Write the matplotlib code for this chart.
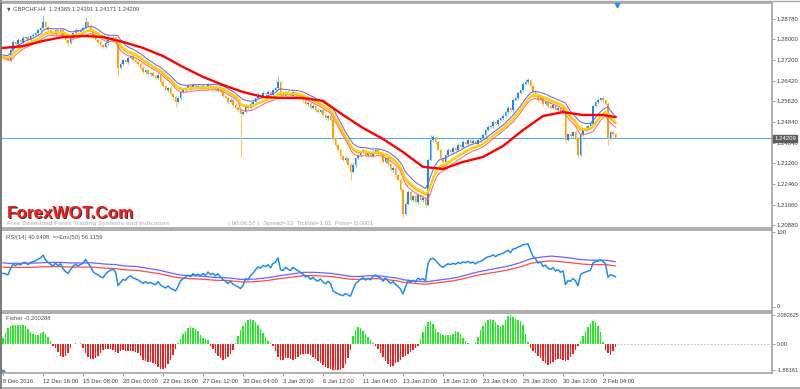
import numpy as np
import pandas as pd
import matplotlib
matplotlib.use('Agg')
import matplotlib.pyplot as plt
from matplotlib.lines import Line2D
import matplotlib.transforms as mtransforms

# ---------------- data ----------------
symbol_text = "GBPCHF,H4  1.24365 1.24391 1.24171 1.24209"
first_open = 1.2735
close = [
    1.2732, 1.2728, 1.2721, 1.2759, 1.2790, 1.2782, 1.2797, 1.2790, 1.2805, 1.2809,
    1.2797, 1.2813, 1.2817, 1.2824, 1.2836, 1.2843, 1.2867, 1.2847, 1.2836, 1.2828,
    1.2820, 1.2836, 1.2824, 1.2836, 1.2813, 1.2797, 1.2786, 1.2805, 1.2824, 1.2836,
    1.2828, 1.2836, 1.2843, 1.2867, 1.2851, 1.2836, 1.2809, 1.2797, 1.2790, 1.2778,
    1.2771, 1.2786, 1.2797, 1.2805, 1.2809, 1.2797, 1.2690, 1.2705, 1.2721, 1.2713,
    1.2728, 1.2736, 1.2721, 1.2713, 1.2705, 1.2690, 1.2675, 1.2682, 1.2667, 1.2671,
    1.2659, 1.2652, 1.2663, 1.2636, 1.2621, 1.2606, 1.2613, 1.2590, 1.2579, 1.2560,
    1.2575, 1.2598, 1.2606, 1.2613, 1.2621, 1.2613, 1.2625, 1.2617, 1.2621, 1.2613,
    1.2621, 1.2613, 1.2625, 1.2613, 1.2617, 1.2606, 1.2613, 1.2598, 1.2583, 1.2575,
    1.2560, 1.2567, 1.2548, 1.2537, 1.2529, 1.2514, 1.2522, 1.2544, 1.2537, 1.2552,
    1.2560, 1.2575, 1.2587, 1.2583, 1.2594, 1.2590, 1.2598, 1.2587, 1.2606, 1.2613,
    1.2636, 1.2587, 1.2583, 1.2598, 1.2590, 1.2583, 1.2598, 1.2590, 1.2583, 1.2575,
    1.2567, 1.2552, 1.2556, 1.2537, 1.2544, 1.2529, 1.2522, 1.2529, 1.2510, 1.2498,
    1.2506, 1.2491, 1.2422, 1.2395, 1.2376, 1.2353, 1.2337, 1.2345, 1.2318, 1.2291,
    1.2318, 1.2345, 1.2356, 1.2368, 1.2376, 1.2356, 1.2364, 1.2353, 1.2368, 1.2376,
    1.2364, 1.2356, 1.2330, 1.2345, 1.2322, 1.2299, 1.2307, 1.2280, 1.2261, 1.2222,
    1.2130, 1.2169, 1.2215, 1.2184, 1.2199, 1.2176, 1.2203, 1.2184, 1.2192, 1.2165,
    1.2337, 1.2414, 1.2426, 1.2406, 1.2376, 1.2345, 1.2330, 1.2356, 1.2376, 1.2368,
    1.2383, 1.2376, 1.2395, 1.2387, 1.2406, 1.2399, 1.2414, 1.2403, 1.2410, 1.2399,
    1.2414, 1.2422, 1.2433, 1.2452, 1.2464, 1.2468, 1.2483, 1.2475, 1.2491, 1.2498,
    1.2506, 1.2522, 1.2537, 1.2529, 1.2567, 1.2575, 1.2594, 1.2606, 1.2629, 1.2636,
    1.2644, 1.2621, 1.2598, 1.2587, 1.2567, 1.2575, 1.2552, 1.2560, 1.2544, 1.2537,
    1.2548, 1.2529, 1.2537, 1.2522, 1.2529, 1.2414, 1.2437, 1.2429, 1.2445, 1.2422,
    1.2356, 1.2437, 1.2452, 1.2460, 1.2468, 1.2475, 1.2544, 1.2560, 1.2567, 1.2575,
    1.2567, 1.2552, 1.2422, 1.2445, 1.24365, 1.24209,
]
# upper / lower shadows in pips
up_wick = [
    6, 4, 8, 12, 6, 5, 9, 4, 7, 5,   8, 4, 6, 5, 9, 6, 26, 5, 7, 4,
    6, 8, 4, 5, 7, 3, 6, 9, 4, 6,    5, 7, 6, 18, 4, 6, 5, 8, 4, 6,
    5, 7, 4, 6, 9, 5, 6, 8, 5, 4,    7, 5, 6, 4, 8, 5, 7, 4, 6, 5,
    6, 4, 8, 5, 7, 4, 6, 9, 5, 6,    8, 5, 7, 4, 6, 5, 8, 4, 6, 5,
    6, 4, 7, 5, 9, 4, 6, 5, 7, 4,    5, 7, 4, 6, 5, 8, 4, 10, 5, 6,
    7, 4, 6, 5, 8, 4, 6, 5, 7, 6,    22, 5, 8, 4, 6, 5, 7, 4, 6, 5,
    6, 4, 7, 5, 8, 4, 6, 5, 7, 4,    5, 6, 8, 5, 4, 7, 5, 6, 4, 8,
    6, 5, 7, 4, 8, 5, 6, 4, 7, 5,    6, 4, 8, 5, 7, 4, 6, 5, 4, 7,
    5, 6, 8, 4, 6, 5, 7, 4, 6, 5,    7, 18, 6, 5, 4, 7, 5, 6, 8, 4,
    6, 5, 7, 4, 8, 5, 6, 4, 7, 5,    6, 4, 7, 5, 8, 4, 6, 5, 7, 4,
    6, 5, 7, 4, 8, 5, 6, 4, 7, 12,   6, 5, 7, 4, 6, 5, 8, 4, 6, 5,
    7, 4, 6, 5, 8, 6, 4, 7, 5, 6,    5, 7, 4, 6, 5, 8, 6, 4, 7, 5,
    6, 5, 8, 4, 5, 2.6,
]
down_wick = [
    5, 7, 4, 6, 8, 5, 6, 4, 7, 5,    6, 4, 7, 5, 6, 8, 4, 6, 5, 7,
    4, 6, 5, 8, 4, 7, 12, 5, 6, 4,   6, 5, 7, 4, 6, 5, 8, 4, 6, 7,
    5, 4, 6, 5, 7, 4, 32, 5, 6, 4,   6, 5, 7, 4, 6, 8, 5, 6, 4, 7,
    5, 6, 4, 8, 5, 6, 7, 4, 6, 18,   5, 6, 4, 7, 5, 6, 4, 8, 5, 6,
    4, 7, 5, 6, 4, 5, 7, 4, 6, 5,    7, 4, 6, 5, 8, 165, 6, 4, 7, 5,
    6, 5, 4, 7, 5, 6, 4, 8, 5, 6,    5, 7, 4, 6, 5, 8, 4, 6, 5, 7,
    6, 4, 8, 5, 6, 7, 4, 6, 5, 8,    6, 5, 10, 8, 6, 7, 5, 6, 8, 30,
    5, 6, 4, 7, 5, 6, 8, 4, 6, 5,    7, 4, 6, 5, 8, 4, 6, 7, 5, 6,
    12, 5, 6, 4, 7, 5, 6, 4, 8, 6,   5, 4, 6, 7, 5, 6, 4, 7, 5, 6,
    4, 6, 5, 7, 4, 6, 5, 8, 4, 6,    5, 7, 4, 6, 5, 4, 7, 5, 6, 4,
    6, 5, 7, 4, 6, 5, 8, 4, 6, 5,    7, 4, 6, 5, 8, 4, 6, 5, 7, 4,
    6, 5, 7, 4, 6, 10, 5, 6, 4, 7,   8, 5, 6, 4, 7, 5, 6, 4, 8, 5,
    6, 5, 27, 6, 5, 3.8,
]
# slow red moving average read at sparse bars
red_idx = [0, 8, 16, 24, 32, 40, 48, 56, 64, 72, 80, 88, 96, 104, 112, 120,
           128, 136, 144, 152, 160, 168, 176, 184, 192, 200, 208, 216, 224,
           232, 240, 245]
red_ma = [1.2767, 1.2774, 1.2794, 1.2809, 1.2813, 1.2809, 1.2790, 1.2767,
          1.2736, 1.2694, 1.2656, 1.2625, 1.2598, 1.2579, 1.2575, 1.2575,
          1.2564, 1.2510, 1.2460, 1.2418, 1.2368, 1.2311, 1.2303, 1.2330,
          1.2349, 1.2391, 1.2452, 1.2506, 1.2521, 1.2510, 1.2510, 1.2502]
fisher = [
    0.45, 0.8, 1.15, 1.3, 1.4, 1.38, 1.37, 1.37, 1.36, 1.33,
    1.1, 0.85, 0.7, 0.62, 0.66, 0.78, 0.88, 0.75, 0.5, 0.2,
    -0.1, -0.25, -0.55, -0.82, -0.92, -0.85, -0.6, -0.25, 0.03, 0.06,
    0.04, 0.05, -0.25, -0.6, -0.9, -1.05, -1.07, -1.0, -0.85, -0.6,
    -0.4, -0.35, -0.33, -0.38, -0.45, -0.55, -0.6, -0.5, -0.45, -0.48,
    -0.5, -0.52, -0.52, -0.55, -0.6, -0.85, -1.1, -1.22, -1.28, -1.3,
    -1.33, -1.4, -1.6, -1.75, -1.8, -1.72, -1.45, -1.1, -0.75, -0.35,
    0.1, 0.35, 0.7, 0.95, 1.12, 1.2, 1.18, 1.1, 0.95, 0.65,
    0.45, 0.35, 0.3, -0.1, -0.35, -0.6, -0.85, -1.0, -1.12, -1.08,
    -0.95, -0.7, -0.4, 0.05, 0.6, 1.0, 1.3, 1.55, 1.72, 1.8,
    1.72, 1.55, 1.35, 1.1, 0.8, 0.5, 0.25, 0.08, -0.15, -0.5,
    -0.9, -1.15, -1.1, -1.0, -1.02, -1.05, -1.1, -1.05, -0.95, -0.8,
    -0.72, -0.7, -0.72, -0.8, -0.95, -1.05, -1.2, -1.35, -1.5, -1.62,
    -1.72, -1.8, -1.85, -1.88, -1.87, -1.82, -1.7, -1.45, -1.0, -0.45,
    0.55, 1.0, 1.2, 1.15, 0.95, 0.7, 0.5, 0.3, 0.08, -0.1,
    -0.35, -0.6, -0.9, -1.2, -1.45, -1.62, -1.55, -1.35, -1.28, -1.1,
    -0.95, -0.85, -0.72, -0.55, -0.4, -0.25, -0.1, 0.4, 0.85, 1.3,
    1.6, 1.67, 1.45, 1.05, 0.85, 0.75, 0.68, 0.64, 0.64, 0.66,
    0.75, 0.92, 0.88, 0.7, 0.45, 0.25, 0.1, 0.03, 0.0, 0.15,
    0.5, 1.0, 1.3, 1.55, 1.72, 1.78, 1.72, 1.55, 1.4, 1.32,
    1.4, 1.75, 2.03, 2.08, 1.95, 1.82, 1.76, 1.65, 1.35, 0.75,
    0.15, -0.25, -0.48, -0.65, -0.83, -1.0, -1.19, -1.38, -1.5, -1.4,
    -1.25, -1.1, -1.07, -1.08, -1.1, -1.18, -1.15, -0.95, -0.7, -0.4,
    -0.15, 0.25, 0.6, 0.95, 1.25, 1.5, 1.67, 1.6, 1.3, 0.9,
    0.12, -0.4, -0.65, -0.8, -0.5, -0.200288,
]
price_ticks = [1.28780, 1.28000, 1.27200, 1.26420, 1.25620, 1.24840,
               1.24040, 1.23260, 1.22460, 1.21660, 1.20880]
bid_price = 1.24209
date_labels = ["8 Dec 2016", "12 Dec 16:00", "15 Dec 08:00", "20 Dec 00:00",
               "22 Dec 16:00", "27 Dec 12:00", "30 Dec 04:00", "3 Jan 20:00",
               "6 Jan 12:00", "11 Jan 04:00", "13 Jan 20:00", "18 Jan 12:00",
               "23 Jan 04:00", "25 Jan 20:00", "30 Jan 12:00", "2 Feb 04:00"]
rsi_label = "RSI(14) 40.6408  =>Env(50) 56.1159"
rsi_start_gain, rsi_start_loss = 0.0009, 0.0011   # read: RSI starts near 45
env_start = 56.0                                   # read: envelope mid at left edge
fisher_label = "Fisher -0.200288"
fisher_ticks = [2.082625, 0.0, -1.88161]
fisher_tick_labels = ["2.082625", "0.00", "-1.88161"]

# ---------------- derived series ----------------
close = np.array(close)
n = len(close)
idx = np.arange(n)
open_ = np.r_[first_open, close[:-1]]
high = np.maximum(open_, close) + np.array(up_wick) * 1e-4
low = np.minimum(open_, close) - np.array(down_wick) * 1e-4


def ema(a, span):
    return pd.Series(a).ewm(span=span, adjust=True).mean().values


ma_blue = ema(high, 12)
ma_pink = ema(low, 12)
ma_yellow = ema((high + low) / 2, 12)
ma_orange = ema((high + 2 * low + close) / 4, 12)

# Wilder RSI(14)
d = np.diff(close, prepend=first_open)
ag, al = rsi_start_gain, rsi_start_loss
rsi = np.empty(n)
for i in range(n):
    ag = (ag * 13 + max(d[i], 0)) / 14
    al = (al * 13 + max(-d[i], 0)) / 14
    rsi[i] = 100 - 100 / (1 + ag / al)
rsi_ma = pd.Series(np.r_[np.full(49, env_start), rsi]).rolling(50).mean().values[49:]
env_up = rsi_ma * 1.05
env_dn = rsi_ma * 0.95

# ---------------- figure ----------------
W, H = 800, 389
fig = plt.figure(figsize=(W / 100, H / 100), dpi=100)
fig.patch.set_facecolor('white')
FONT = ['Liberation Sans', 'DejaVu Sans']
plt.rcParams['font.family'] = FONT


def rect(x0, y0, x1, y1):
    return [x0 / W, 1 - y1 / H, (x1 - x0) / W, (y1 - y0) / H]


def px2bar(x):
    return (x - 3) / 2.5


XL = (px2bar(1), px2bar(772))
FRAME = '#a8a8a8'
TXT = '#404040'
LS = 4.3


def style(ax, ls=LS):
    ax.set_facecolor('white')
    for s in ax.spines.values():
        s.set_color(FRAME)
        s.set_linewidth(1.3)
    ax.set_xlim(*XL)
    ax.yaxis.tick_right()
    ax.tick_params(axis='y', direction='out', length=2.2, width=0.6,
                   color='#909090', labelsize=ls, labelcolor=TXT, pad=1.0)
    ax.tick_params(axis='x', bottom=False, labelbottom=False)


# ---- main price panel ----
ax = fig.add_axes(rect(1, 3, 772, 228))
style(ax)
ymax = 1.29508 - 0.0003834 * 3
ymin = 1.29508 - 0.0003834 * 228
ax.set_ylim(ymin, ymax)
ax.set_yticks(price_ticks)
ax.set_yticklabels([f"{v:.5f}" for v in price_ticks])

up = close >= open_
wc = np.where(up, '#86c2ff', '#ffc860')
ax.vlines(idx, low, high, colors=wc, linewidth=0.8, zorder=2)
body_lo = np.minimum(open_, close)
body_h = np.maximum(np.abs(close - open_), 0.00008)
ax.bar(idx, body_h, bottom=body_lo, width=0.72,
       color=np.where(up, '#1a88f0', '#ffa000'), linewidth=0, zorder=3)

ax.axhline(bid_price, color='#55aaff', linewidth=0.8, zorder=1)

ax.plot(idx, ma_pink, color='#ff6a6a', linewidth=0.75, zorder=4)
ax.plot(idx, ma_orange, color='#ff9a00', linewidth=0.9, zorder=4)
ax.plot(idx, ma_yellow, color='#ffd400', linewidth=1.5, zorder=5)
ax.plot(idx, ma_blue, color='#6666ff', linewidth=0.75, zorder=5)
ax.plot(red_idx, red_ma, color='#ff0000', linewidth=1.7, zorder=6,
        solid_joinstyle='round')

# chart shift marker
ax.plot([px2bar(617)], [ymax - 0.0003834 * 1.5], marker='v', color='#1e90ff',
        markersize=3.2, clip_on=False, zorder=7)

trans = mtransforms.blended_transform_factory(ax.transAxes, ax.transData)
ax.text(1.003, bid_price, "1.24209", transform=trans, fontsize=LS,
        color='white', va='center', ha='left',
        bbox=dict(boxstyle='square,pad=0.15', facecolor='#5e5e5e',
                  edgecolor='#5e5e5e'), zorder=10, clip_on=False)

fig.text(7 / W, 1 - 8.5 / H, "\u25bc", fontsize=3.3, color='#505050',
         va='center', ha='left', family=['DejaVu Sans'])
fig.text(13 / W, 1 - 8.5 / H, symbol_text, fontsize=4.2, color='#505050',
         va='center', ha='left')

# watermark
for dx, dy, c in [(1.2, 1.2, '#3a3a3a'), (0, 0, '#ff1a1a')]:
    fig.text((7 + dx) / W, 1 - (213 + dy) / H, "ForexWOT.Com",
             fontsize=12.3, fontweight='bold', color=c, va='center',
             ha='left')
fig.text(7 / W, 1 - 223.5 / H,
         "Free Download Forex Trading Systems and Indicators",
         fontsize=4.6, fontweight='bold', color='#c4c4c4', va='center',
         ha='left')
fig.text(228 / W, 1 - 223.5 / H,
         "( 00:06:57 )  Spread=33  TickVal=1.01  Point= 0.0001",
         fontsize=4.4, color='#a8a8a8', va='center', ha='left')

# ---- RSI panel ----
ax2 = fig.add_axes(rect(1, 230, 772, 311))
style(ax2)
r_top = 100 + (232 - 230) / 0.745
r_bot = 100 - (311 - 232) / 0.745
ax2.set_ylim(r_bot, r_top)
ax2.set_yticks([100, 0])
ax2.set_yticklabels(['100', '0'])
ax2.plot(idx, env_up, color='#7060ff', linewidth=0.9)
ax2.plot(idx, env_dn, color='#ff4a4a', linewidth=0.9)
ax2.plot(idx, rsi, color='#1e8cf0', linewidth=1.1)
ax2.text(5 / 771, 0.94, rsi_label, transform=ax2.transAxes, fontsize=4.2,
         color='#505050', va='top', ha='left')

# ---- Fisher panel ----
ax3 = fig.add_axes(rect(1, 313, 772, 373))
style(ax3, ls=4.0)
f_top = 2.082625 + 2 / 14.0
f_bot = -1.88161 - 2.5 / 14.0
ax3.set_ylim(f_bot, f_top)
ax3.set_yticks(fisher_ticks)
ax3.set_yticklabels(fisher_tick_labels)
fv = np.array(fisher)
ax3.bar(idx, fv, width=0.7, color=np.where(fv >= 0, '#1cf01c', '#ff1a1a'),
        linewidth=0, zorder=3)
ax3.plot([n - 0.5, XL[1]], [0, 0], color='#b8b8b8', linewidth=0.6,
         linestyle=(0, (2, 2)), zorder=1)
ax3.text(5 / 771, 0.95, fisher_label, transform=ax3.transAxes, fontsize=4.2,
         color='#505050', va='top', ha='left')
ax3.plot([px2bar(3)], [f_bot + 0.12], marker=(3, 0, 30), color='#1e90ff',
         markersize=2.5, clip_on=False)

# date axis
tick_pos = [16 * k for k in range(len(date_labels))]
ax3.set_xticks(tick_pos)
ax3.set_xticklabels(date_labels)
ax3.tick_params(axis='x', bottom=True, labelbottom=True, direction='out',
                length=2.5, width=0.6, color='#909090', labelsize=4.2,
                labelcolor=TXT, pad=1.5)
for lab in ax3.get_xticklabels():
    lab.set_horizontalalignment('left')

# outer frame lines
fig.add_artist(Line2D([0, 1], [1 - 387.5 / H] * 2, color=FRAME, linewidth=1.3))
fig.add_artist(Line2D([0.5 / W] * 2, [1 - 388 / H, 1], color='#707070',
                      linewidth=1.2))
fig.add_artist(Line2D([0, 1], [1 - 1 / H] * 2, color=FRAME, linewidth=1.0))

fig.savefig('out.png', dpi=100, facecolor='white')
